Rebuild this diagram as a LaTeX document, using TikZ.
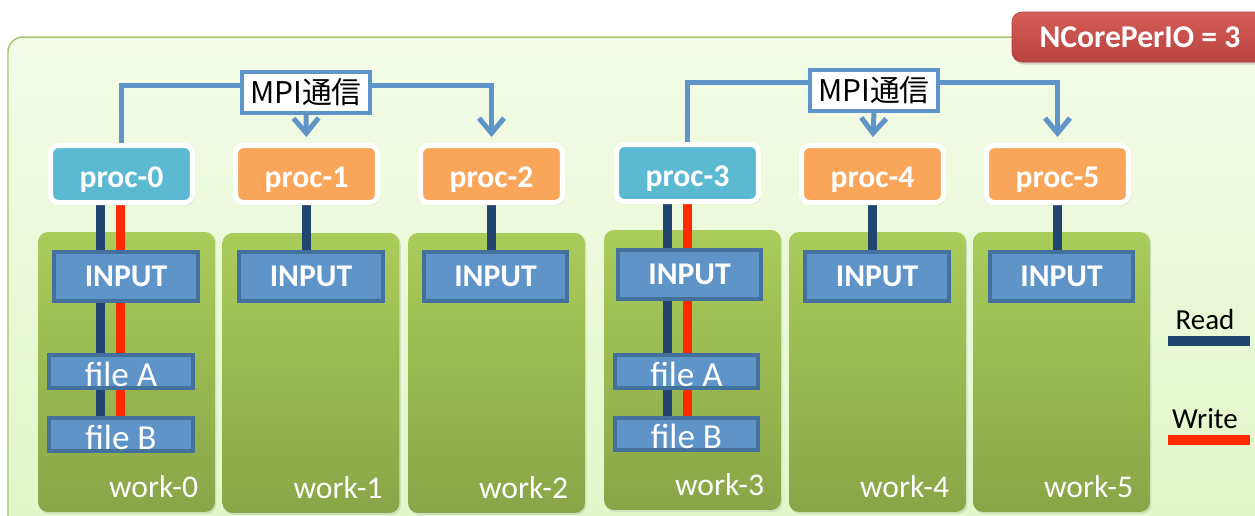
\documentclass[tikz,border=0pt]{standalone}
\usepackage{fontspec}
\setmainfont{Carlito}
\newfontfamily\cjk{Noto Sans CJK JP}
\usetikzlibrary{positioning,arrows.meta,shadows}
\definecolor{bgtop}{HTML}{F3FBE8}
\definecolor{bgbot}{HTML}{E2F6C6}
\definecolor{bgedge}{HTML}{A8C870}
\definecolor{proccyan}{HTML}{5BB9D1}
\definecolor{procorange}{HTML}{F9A65A}
\definecolor{worktop}{HTML}{AACC5A}
\definecolor{workbot}{HTML}{8AA548}
\definecolor{infill}{HTML}{5F94C8}
\definecolor{inedge}{HTML}{43709C}
\definecolor{mpiblue}{HTML}{5F94C8}
\definecolor{readblue}{HTML}{1F4570}
\definecolor{writered}{HTML}{FF2A00}
\definecolor{ncoretop}{HTML}{D65E59}
\definecolor{ncorebot}{HTML}{B8423F}
\pgfdeclarelayer{bg}
\pgfdeclarelayer{wires}
\pgfsetlayers{bg,wires,main}

\tikzset{basic/.style={rounded corners=0.16cm,text=white,font=\bfseries\fontsize{18}{20}\selectfont}}
\tikzset{procbox/.style={basic,draw=white,line width=0.1cm,minimum width=2.84cm,minimum height=1.14cm,text height=0.62cm,text depth=0.1cm,drop shadow={opacity=0.25,shadow xshift=0.04cm,shadow yshift=-0.05cm}}}
\tikzset{ioproc/.style={procbox,fill=proccyan}}
\tikzset{calcproc/.style={procbox,fill=procorange}}
\tikzset{workdir/.style={rounded corners=0.2cm,top color=worktop,bottom color=workbot,minimum width=3.54cm,minimum height=5.6cm,drop shadow={opacity=0.2,shadow xshift=0.03cm,shadow yshift=-0.04cm}}}
\tikzset{inbox/.style={draw=inedge,fill=infill,line width=0.08cm,text=white,font=\bfseries\fontsize{18}{20}\selectfont,minimum width=2.88cm,minimum height=0.98cm}}
\tikzset{filebox/.style={inbox,font=\fontsize{20}{22}\selectfont,minimum height=0.66cm,inner sep=0pt,text height=0.6cm,text depth=0pt}}
\tikzset{mpibox/.style={draw=mpiblue,fill=white,line width=0.08cm,font=\cjk\fontsize{17}{19}\selectfont,minimum width=2.56cm,minimum height=0.82cm}}
\tikzset{mpiline/.style={draw=mpiblue,line width=0.1cm}}
\tikzset{mpiarrow/.style={mpiline,-{Straight Barb[length=0.3cm,width=0.5cm]},shorten >=0.12cm}}
\tikzset{readline/.style={draw=readblue,line width=0.18cm}}
\tikzset{writeline/.style={draw=writered,line width=0.18cm}}
\tikzset{worklabel/.style={text=white,font=\fontsize{18}{20}\selectfont,inner sep=0pt}}
\tikzset{legend/.style={font=\fontsize{16.5}{18}\selectfont}}
\tikzset{ncore/.style={basic,rounded corners=0.2cm,draw=ncorebot,top color=ncoretop,bottom color=ncorebot,minimum width=5.12cm,minimum height=1cm,drop shadow={opacity=0.3,shadow xshift=0.03cm,shadow yshift=-0.05cm}}}

\begin{document}
\begin{tikzpicture}[x=0.02cm,y=-0.02cm]
    \useasboundingbox (0,0) rectangle (1255,515);
    \begin{pgfonlayer}{bg}
        \draw[draw=bgedge,line width=0.03cm,rounded corners=0.3cm,top color=bgtop,bottom color=bgbot] (8,37) rectangle (1300,560);
        \node[workdir] (w0) at (126.5,372) {};
        \node[workdir] (w1) at (311,373) {};
        \node[workdir] (w2) at (496.5,373) {};
        \node[workdir] (w3) at (692.5,370) {};
        \node[workdir] (w4) at (877.5,372) {};
        \node[workdir] (w5) at (1061.5,372) {};
    \end{pgfonlayer}
    \node[ncore] (nc) at (1140,37) {NCorePerIO = 3};
    % processes
    \node[ioproc] (p0) at (121.5,174) {proc-0};
    \node[calcproc] (p1) at (306.5,174) {proc-1};
    \node[calcproc] (p2) at (491.5,174) {proc-2};
    \node[ioproc] (p3) at (687.5,173) {proc-3};
    \node[calcproc] (p4) at (872.5,174) {proc-4};
    \node[calcproc] (p5) at (1057.5,174) {proc-5};
    % files
    \node[inbox] (in0) at (126,276.5) {INPUT};
    \node[inbox] (in1) at (311,276.5) {INPUT};
    \node[inbox] (in2) at (495.5,276.5) {INPUT};
    \node[inbox] (in3) at (689.5,274) {INPUT};
    \node[inbox] (in4) at (877,276.5) {INPUT};
    \node[inbox] (in5) at (1061.5,276.5) {INPUT};
    \node[filebox] (fa0) at (121,371.5) {file A};
    \node[filebox,below=0.52cm of fa0] (fb0) {file B};
    \node[filebox] (fa3) at (686.5,371) {file A};
    \node[filebox,below=0.52cm of fa3] (fb3) {file B};
    \node[worklabel,above left=0.28cm and 0.34cm of w0.south east] (t0) {work-0};
    \node[worklabel,above left=0.28cm and 0.34cm of w1.south east] (t1) {work-1};
    \node[worklabel,above left=0.28cm and 0.34cm of w2.south east] (t2) {work-2};
    \node[worklabel,above left=0.28cm and 0.34cm of w3.south east] (t3) {work-3};
    \node[worklabel,above left=0.28cm and 0.34cm of w4.south east] (t4) {work-4};
    \node[worklabel,above left=0.28cm and 0.34cm of w5.south east] (t5) {work-5};
    % MPI
    \node[mpibox] (mpi0) at (306,92.5) {MPI通信};
        \draw[mpiline] (p0.north) |- ([yshift=0.15cm]mpi0.west);
        \draw[mpiarrow] ([yshift=0.15cm]mpi0.east) -| (p2.north);
        \draw[mpiarrow] (mpi0.south) -- (p1.north);
    \node[mpibox] (mpi1) at (874,90.5) {MPI通信};
        \draw[mpiline] (p3.north) |- ([yshift=0.17cm]mpi1.west);
        \draw[mpiarrow] ([yshift=0.17cm]mpi1.east) -| (p5.north);
        \draw[mpiarrow] (mpi1.south) -- (p4.north);
    % read / write
    \begin{pgfonlayer}{wires}
        \draw[readline] ([xshift=-0.42cm]p0.south) -- ([xshift=-0.42cm]p0.south |- fb0.north);
        \draw[writeline] ([xshift=-0.02cm]p0.south) -- ([xshift=-0.02cm]p0.south |- fb0.north);
        \draw[readline] ([xshift=-0.41cm]p3.south) -- ([xshift=-0.41cm]p3.south |- fb3.north);
        \draw[writeline] (p3.south) -- (p3.south |- fb3.north);
        \draw[readline] (p1.south) -- (p1.south |- in1.north);
        \draw[readline] (p2.south) -- (p2.south |- in2.north);
        \draw[readline] (p4.south) -- (p4.south |- in4.north);
        \draw[readline] (p5.south) -- (p5.south |- in5.north);
    \end{pgfonlayer}
    % legend
    \node[legend] (rd) at (1205,320) {Read};
    \coordinate (rd1) at (1168,341);
    \coordinate (rd2) at (1250,341);
        \draw[readline,line width=0.2cm] (rd1) -- (rd2);
    \node[legend] (wr) at (1205,419) {Write};
    \coordinate (wr1) at (1168,440);
    \coordinate (wr2) at (1250,440);
        \draw[writeline,line width=0.2cm] (wr1) -- (wr2);
\end{tikzpicture}
\end{document}
